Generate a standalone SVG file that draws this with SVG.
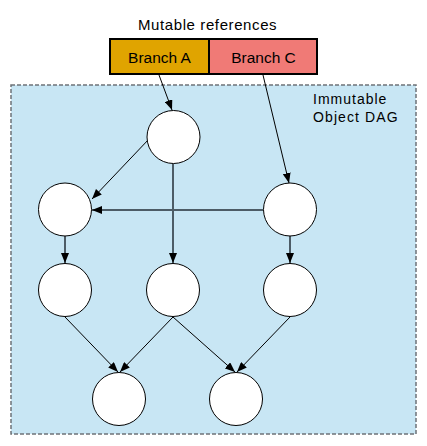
<svg xmlns="http://www.w3.org/2000/svg" width="427" height="446" viewBox="0 0 427 446">
<style>
text{font-family:"Liberation Sans",Arial,sans-serif;fill:#000}
.node{fill:#fff;stroke:#000;stroke-width:1}
.e{stroke:#000;stroke-width:1;fill:none;marker-end:url(#ah)}
.g{stroke:#4d5c66;stroke-width:2;fill:none;marker-end:url(#ah)}
</style>
<defs>
<marker id="ah" viewBox="0 0 10 8" refX="10" refY="4" markerWidth="10" markerHeight="8" markerUnits="userSpaceOnUse" orient="auto">
<path d="M0,0 L10,4 L0,8 z" fill="#000"/>
</marker>
</defs>
<g id="dag-region">
<rect x="11" y="85" width="405" height="349" fill="#c8e6f4" stroke="#6e7378" stroke-width="1.5" stroke-dasharray="4,2"/>
<text x="313" y="104" font-size="14" letter-spacing="1">Immutable</text>
<text x="313" y="122" font-size="14" letter-spacing="1.1">Object DAG</text>
</g>
<g id="refs">
<text x="138" y="30" font-size="15" letter-spacing="0.6">Mutable references</text>
</g>
<g id="branchA">
<rect x="110" y="39" width="99" height="35" fill="#e0a400" stroke="#000" stroke-width="2"/>
<text x="159.5" y="62.5" font-size="15.5" text-anchor="middle">Branch A</text>
</g>
<g id="branchC">
<rect x="209" y="39" width="108" height="35" fill="#f07a76" stroke="#000" stroke-width="2"/>
<text x="263.5" y="62.5" font-size="15.5" text-anchor="middle">Branch C</text>
</g>
<g id="connectors">
<line class="e" x1="159" y1="75" x2="172" y2="110"/>
<line class="e" x1="263" y1="75" x2="289" y2="183"/>
<line class="e" x1="149" y1="139" x2="92" y2="199"/>
<line class="g" x1="173" y1="164" x2="173" y2="263"/>
<line class="g" x1="263" y1="210" x2="92" y2="210"/>
<line class="g" x1="65" y1="236" x2="65" y2="263"/>
<line class="g" x1="290" y1="236" x2="290" y2="263"/>
<line class="e" x1="65" y1="317" x2="118" y2="372"/>
<line class="e" x1="173" y1="317" x2="120" y2="372"/>
<line class="e" x1="173" y1="317" x2="235" y2="372"/>
<line class="e" x1="290" y1="317" x2="237" y2="372"/>
</g>
<g id="n1"><circle class="node" cx="173.5" cy="137" r="26.5"/></g>
<g id="n2"><circle class="node" cx="65" cy="209.5" r="26.5"/></g>
<g id="n3"><circle class="node" cx="290" cy="209.5" r="26.5"/></g>
<g id="n4"><circle class="node" cx="65" cy="290" r="26.5"/></g>
<g id="n5"><circle class="node" cx="173" cy="290" r="26.5"/></g>
<g id="n6"><circle class="node" cx="290" cy="290" r="26.5"/></g>
<g id="n7"><circle class="node" cx="119" cy="399" r="26.5"/></g>
<g id="n8"><circle class="node" cx="236" cy="399" r="26.5"/></g>
</svg>
